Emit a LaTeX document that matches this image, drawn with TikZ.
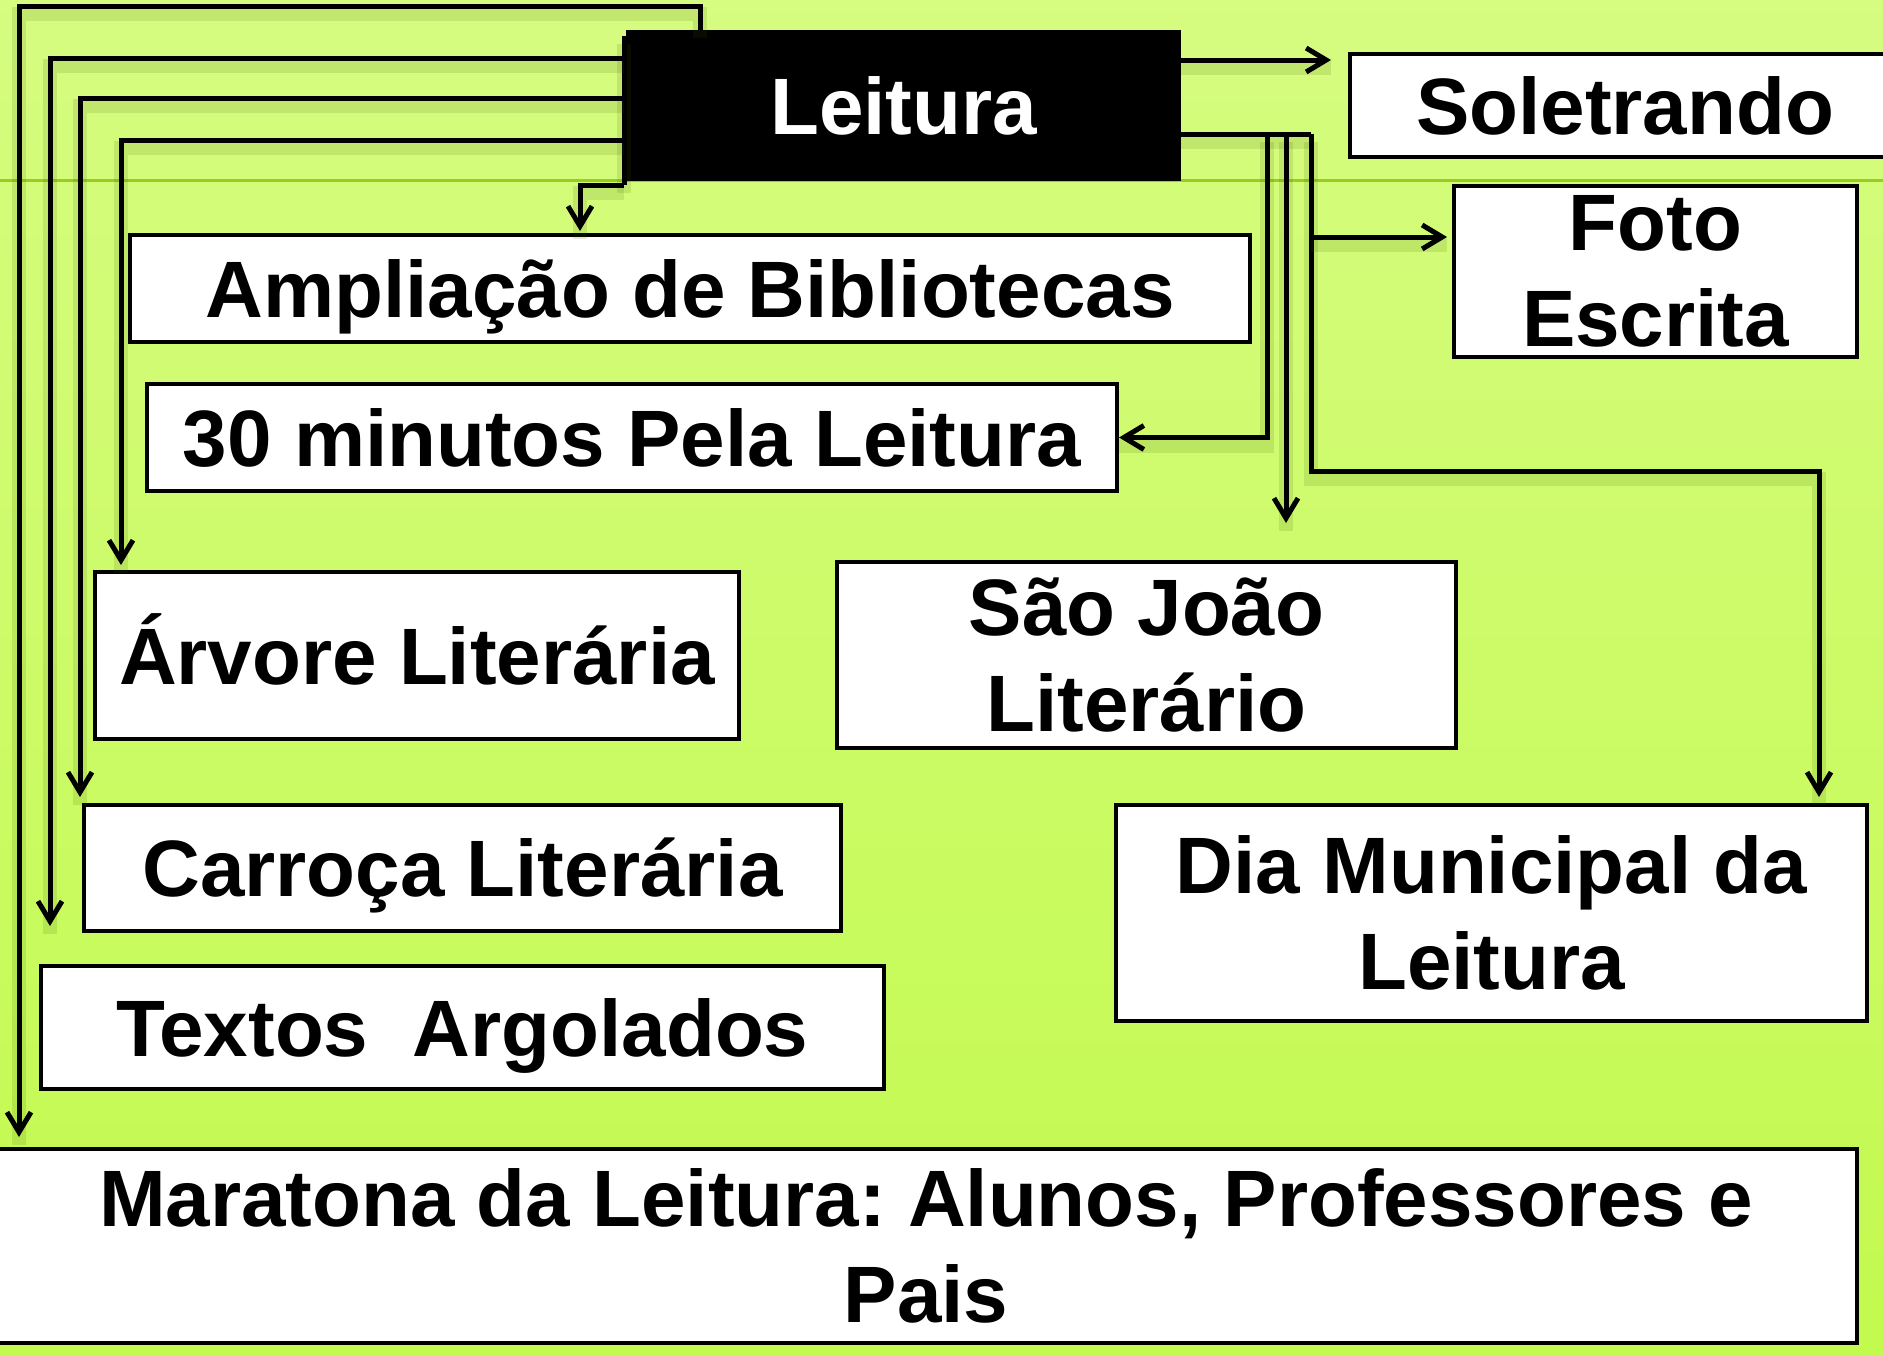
\documentclass[tikz,border=0pt]{standalone}
\usepackage{fontspec}
\setmainfont{Liberation Sans}
\usetikzlibrary{arrows.meta}
\definecolor{bgtop}{HTML}{D6FC80}
\definecolor{bgbot}{HTML}{C2FA4E}
\definecolor{rulegreen}{HTML}{9ACD1E}
\definecolor{shadowgreen}{HTML}{3A5A00}
\frenchspacing
\begin{document}
\begin{tikzpicture}[x=0.5pt,y=-0.5pt,
  box/.style={draw=black,line width=2pt,fill=white,inner sep=0pt,align=center,
    font=\bfseries\fontsize{40}{48}\selectfont},
  one/.style={text height=32pt,text depth=3.4pt},
  shad/.style={preaction={draw=shadowgreen,opacity=0.13,line width=7pt,-,
    transform canvas={yshift=-4pt}}},
  ln/.style={line width=2.5pt,shad},
  con/.style={ln,-{Straight Barb[length=10pt,width=12pt]}}]
\useasboundingbox (0,0) rectangle (1883,1355);
\shade[top color=bgtop,bottom color=bgbot] (0,0) rectangle (1883,1355);
\draw[rulegreen,line width=1.5pt] (0,180) -- (1883,180);

% left tree
\coordinate (a1) at (700,6);
\coordinate (a2) at (19,6);
\coordinate (v0) at (624,36);
\coordinate (v4) at (624,185);
\coordinate (c5) at (580,0);
\coordinate (h1) at (624,58); \coordinate (k1) at (50,0);
\coordinate (h2) at (624,98); \coordinate (k2) at (80,0);
\coordinate (h3) at (624,140); \coordinate (k3) at (121,0);
% right tree
\coordinate (r1) at (0,60);
\coordinate (r2) at (1311,134);
\coordinate (p1) at (1267,134);
\coordinate (p2) at (1286,134);
\coordinate (p3) at (1819,471);
\coordinate (p4) at (1311,237);

\node[box,one,fill=black,text=white,minimum width=275.5pt,minimum height=73.5pt] (lei) at (903.5,105.5) {Leitura};
\node[box,one,minimum width=275pt,minimum height=51.5pt] (sol) at (1625,105.5) {Soletrando};
\node[box,minimum width=201.5pt,minimum height=85.5pt] (fot) at (1655.5,271.5) {Foto\\Escrita};
\node[box,one,minimum width=560pt,minimum height=53.5pt] (amp) at (690,288.5) {Ampliação de Bibliotecas};
\node[box,one,minimum width=485pt,minimum height=53.5pt] (min) at (632,437.5) {30 minutos Pela Leitura};
\node[box,one,minimum width=322pt,minimum height=83.5pt] (arv) at (417,655.5) {Árvore Literária};
\node[box,minimum width=309.5pt,minimum height=93pt] (sjo) at (1146.5,655) {São João\\Literário};
\node[box,one,minimum width=378.5pt,minimum height=63pt] (car) at (462.5,868) {Carroça Literária};
\node[box,minimum width=375.5pt,minimum height=108pt] (dia) at (1491.5,913) {Dia Municipal da\\Leitura};
\node[box,one,minimum width=421.5pt,minimum height=61.5pt] (txt) at (462.5,1027.5) {Textos\ \ Argolados};
\node[box,minimum width=931pt,minimum height=97pt] (mar) at (926,1246) {Maratona da Leitura: Alunos, Professores e\\Pais};

\draw[con,shorten >=5pt] (a1 |- lei.north) -- (a1) -- (a2) -- (a2 |- mar.north);
\draw[ln] (v0) -- (v4);
\draw[con,shorten >=1pt] (v4) -| (c5 |- amp.north);
\draw[con,shorten >=19pt] (h1) -| (k1 |- txt.north);
\draw[con,shorten >=3pt] (h2) -| (k2 |- car.north);
\draw[con,shorten >=2.5pt] (h3) -| (k3 |- arv.north);

\draw[con,shorten >=8.5pt] (lei.east |- r1) -- (sol.west |- r1);
\draw[ln] (lei.east |- r2) -- (r2);
\draw[con] (p1) |- (min.east);
\draw[con,shorten >=18.5pt] (p2) -- (p2 |- sjo.north);
\draw[con,shorten >=3pt] (r2) |- (p3) -- (p3 |- dia.north);
\draw[con,shorten >=2.5pt] (p4) -- (fot.west |- p4);
\end{tikzpicture}
\end{document}
